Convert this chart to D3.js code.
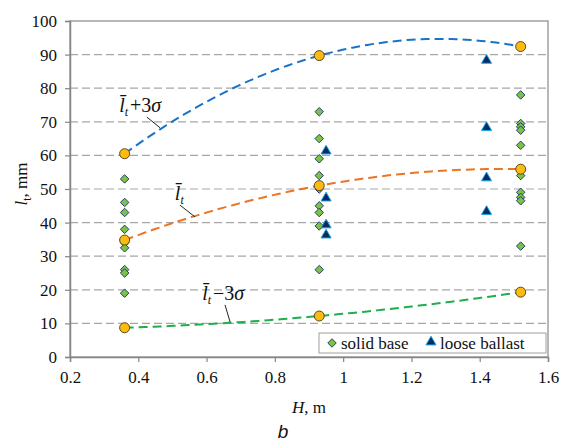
<!DOCTYPE html>
<html>
<head>
<meta charset="utf-8">
<script src="https://cdn.jsdelivr.net/npm/d3@7"></script>
<style>
  body { margin: 0; background: #fff; }
  svg text { font-family: "Liberation Serif", Tinos, "Times New Roman", "DejaVu Serif", serif; }
  svg text.sans { font-family: "Liberation Sans", Arimo, Arial, "DejaVu Sans", sans-serif; }
</style>
</head>
<body>
<svg id="chart" width="566" height="445"></svg>
<script>
// H values of measured columns
const hStat = [0.36, 0.93, 1.52];
const solid036 = [53, 46, 43, 38, 35, 34, 32.5, 26, 25, 19];
const solid093 = [73, 65, 59, 54, 51, 50, 45, 43, 39, 26];
const solid152 = [78, 69.5, 68.5, 67.5, 63, 54, 49, 47.5, 46.5, 33];
const ballastH = [0.95, 1.42];
const ballast095 = [61, 47, 39, 36];
const ballast142 = [88, 68, 53, 43];
// statistics at each H
const meanL = [34.8, 51, 55.9];
const upperL = [60.5, 89.7, 92.4];
const lowerL = [8.7, 12.2, 19.3];

const xTicks = [0.2, 0.4, 0.6, 0.8, 1, 1.2, 1.4, 1.6];
const xTickLabels = ['0.2', '0.4', '0.6', '0.8', '1', '1.2', '1.4', '1.6'];
const yTicks = [0, 10, 20, 30, 40, 50, 60, 70, 80, 90, 100];

const svg = d3.select('#chart');
const x = d3.scaleLinear().domain([0.2, 1.6]).range([70, 548]);
const y = d3.scaleLinear().domain([0, 100]).range([357, 21]);

// gridlines
svg.append('g').selectAll('line')
  .data(yTicks.filter(d => d > 0 && d < 100))
  .join('line')
  .attr('x1', x(0.2)).attr('x2', x(1.6))
  .attr('y1', d => y(d)).attr('y2', d => y(d))
  .attr('stroke', '#a6a6a6').attr('stroke-width', 1.2)
  .attr('stroke-dasharray', '8,4');

// plot frame
svg.append('rect')
  .attr('x', x(0.2)).attr('y', y(100))
  .attr('width', x(1.6) - x(0.2)).attr('height', y(0) - y(100))
  .attr('fill', 'none').attr('stroke', '#a0a0a0').attr('stroke-width', 1.5);

// axes
const xAxis = svg.append('g').attr('transform', `translate(0,${y(0)})`)
  .call(d3.axisBottom(x).tickValues(xTicks).tickFormat((d, i) => xTickLabels[i]).tickSize(5).tickPadding(9));
const yAxis = svg.append('g').attr('transform', `translate(${x(0.2)},0)`)
  .call(d3.axisLeft(y).tickValues(yTicks).tickSize(5).tickPadding(8));
[xAxis, yAxis].forEach(a => {
  a.attr('font-family', null);
  a.select('.domain').attr('stroke', '#868686').attr('stroke-width', 1.5);
  a.selectAll('.tick line').attr('stroke', '#868686').attr('stroke-width', 1.2);
  a.selectAll('.tick text').attr('font-size', 17).attr('fill', '#111');
});

// quadratic trendline through the three statistic points
function trend(vals) {
  const [x0, x1, x2] = hStat, [y0, y1, y2] = vals;
  const f = t => y0 * (t - x1) * (t - x2) / ((x0 - x1) * (x0 - x2))
    + y1 * (t - x0) * (t - x2) / ((x1 - x0) * (x1 - x2))
    + y2 * (t - x0) * (t - x1) / ((x2 - x0) * (x2 - x1));
  return d3.range(0, 81).map(i => {
    const t = x0 + (x2 - x0) * i / 80;
    return [t, f(t)];
  });
}
const line = d3.line().x(d => x(d[0])).y(d => y(d[1]));
[[upperL, '#1a73c9'], [meanL, '#ec7425'], [lowerL, '#1fae4a']].forEach(([vals, col]) => {
  svg.append('path').attr('d', line(trend(vals)))
    .attr('fill', 'none').attr('stroke', col).attr('stroke-width', 2)
    .attr('stroke-dasharray', '9,5');
});

// scatter: solid base
const solidPts = [];
[solid036, solid093, solid152].forEach((arr, i) => arr.forEach(v => solidPts.push([hStat[i], v])));
const diamond = d3.symbol().type(d3.symbolDiamond2).size(46);
svg.append('g').selectAll('path').data(solidPts).join('path')
  .attr('transform', d => `translate(${x(d[0])},${y(d[1])})`)
  .attr('d', diamond)
  .attr('fill', '#7cc243').attr('stroke', '#243f72').attr('stroke-width', 1);

// scatter: loose ballast
const ballastPts = [];
[ballast095, ballast142].forEach((arr, i) => arr.forEach(v => ballastPts.push([ballastH[i], v])));
const tri = d3.symbol().type(d3.symbolTriangle).size(44);
svg.append('g').selectAll('path').data(ballastPts).join('path')
  .attr('transform', d => `translate(${x(d[0])},${y(d[1]) - 1})`)
  .attr('d', tri)
  .attr('fill', '#0b2a5e').attr('stroke', '#1aa3e8').attr('stroke-width', 1);

// statistic circles
const statPts = [];
[upperL, meanL, lowerL].forEach(arr => arr.forEach((v, i) => statPts.push([hStat[i], v])));
svg.append('g').selectAll('circle').data(statPts).join('circle')
  .attr('cx', d => x(d[0])).attr('cy', d => y(d[1])).attr('r', 5)
  .attr('fill', '#fdbb12').attr('stroke', '#5a4a1a').attr('stroke-width', 1);

// curve labels with leader lines
const labels = [
  { h: 0.344, v: 72.9, rest: '+3', sigma: true, lead: [[0.425, 71.4], [0.464, 68.2]] },
  { h: 0.507, v: 46.7, rest: '', sigma: false, lead: [[0.522, 45.2], [0.566, 41.7]] },
  { h: 0.587, v: 17.0, rest: '\u22123', sigma: true, lead: [[0.654, 15.5], [0.669, 10.4]] }
];
labels.forEach(l => {
  const t = svg.append('text').attr('x', x(l.h)).attr('y', y(l.v))
    .attr('font-size', 20).attr('fill', '#111');
  t.append('tspan').attr('font-style', 'italic').text('l\u0304');
  t.append('tspan').attr('font-style', 'italic').attr('font-size', 12).attr('dy', 4).text('t');
  if (l.rest) {
    t.append('tspan').attr('dy', -4).attr('dx', 2).text(l.rest);
    t.append('tspan').attr('font-style', 'italic').text('\u03c3');
  }
  svg.append('line')
    .attr('x1', x(l.lead[0][0])).attr('y1', y(l.lead[0][1]))
    .attr('x2', x(l.lead[1][0])).attr('y2', y(l.lead[1][1]))
    .attr('stroke', '#222').attr('stroke-width', 1);
});

// legend
const lg = svg.append('g');
lg.append('rect').attr('x', 319).attr('y', 333).attr('width', 227).attr('height', 20)
  .attr('fill', '#fff').attr('stroke', '#a0a0a0').attr('stroke-width', 1);
lg.append('path').attr('transform', 'translate(332,343)').attr('d', diamond)
  .attr('fill', '#7cc243').attr('stroke', '#243f72').attr('stroke-width', 1);
lg.append('text').attr('x', 341).attr('y', 349).attr('font-size', 17).attr('fill', '#111').text('solid base');
lg.append('path').attr('transform', 'translate(431,342)').attr('d', tri)
  .attr('fill', '#0b2a5e').attr('stroke', '#1aa3e8').attr('stroke-width', 1);
lg.append('text').attr('x', 440).attr('y', 349).attr('font-size', 17).attr('fill', '#111').text('loose ballast');

// axis titles
const xt = svg.append('text').attr('x', 309).attr('y', 413).attr('text-anchor', 'middle')
  .attr('font-size', 17).attr('fill', '#111');
xt.append('tspan').attr('font-style', 'italic').text('H');
xt.append('tspan').text(', m');

const yt = svg.append('text').attr('transform', 'translate(27,184) rotate(-90)')
  .attr('text-anchor', 'middle').attr('font-size', 17).attr('fill', '#111');
yt.append('tspan').attr('font-style', 'italic').text('l');
yt.append('tspan').attr('font-size', 12).attr('dy', 4).text('t');
yt.append('tspan').attr('dy', -4).text(', mm');

svg.append('text').attr('class', 'sans').attr('x', 283).attr('y', 438).attr('text-anchor', 'middle')
  .attr('font-style', 'italic').attr('font-size', 19)
  .attr('fill', '#111').text('b');
</script>
</body>
</html>
